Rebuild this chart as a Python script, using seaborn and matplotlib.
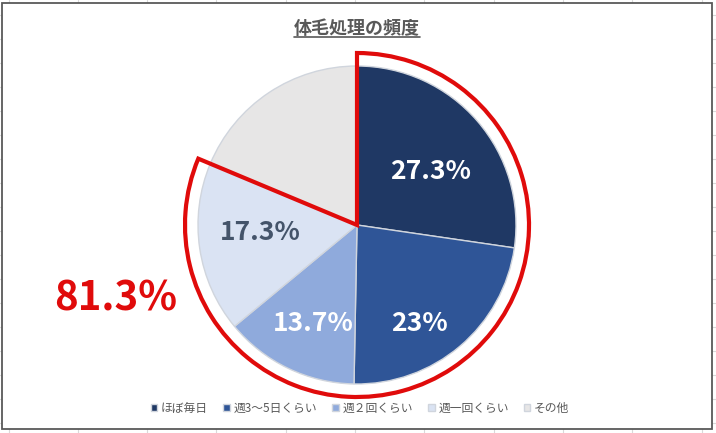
import numpy as np
import matplotlib
matplotlib.use("Agg")
import matplotlib.pyplot as plt
import seaborn as sns
from matplotlib.patches import Wedge, Rectangle

# ---- data ----
categories = ["ほぼ毎日", "週3〜5日くらい", "週２回くらい", "週一回くらい", "その他"]
values = [27.3, 23.0, 13.7, 17.3, 18.7]
pct_labels = ["27.3%", "23%", "13.7%", "17.3%", ""]
highlight_label = "81.3%"
highlight_count = 4
title = "体毛処理の頻度"

sns.set_style("white")
plt.rcParams["font.family"] = ["Noto Sans CJK JP", "DejaVu Sans"]

colors = sns.color_palette(["#1F3864", "#2F5597", "#8FAADC", "#DAE3F3", "#E7E6E6"])
label_colors = ["white", "white", "white", "#44546A", "white"]
label_r = [0.57, 0.73, 0.68, 0.61, 0.6]
label_dtheta = [-5, -8, 2, -4, 0]

W, H = 716, 433
fig = plt.figure(figsize=(W / 100, H / 100), dpi=100)
ax = fig.add_axes([0, 0, 1, 1])

# spreadsheet grid in background
for x in np.arange(8.5, W, 69.3):
    ax.plot([x, x], [0, H], color="#D9D9D9", lw=0.8, zorder=0)
for y in np.arange(15, H, 24):
    ax.plot([0, W], [H - y, H - y], color="#D9D9D9", lw=0.8, zorder=0)
ax.add_patch(Rectangle((2, H - 429), 710, 426, facecolor="white",
                       edgecolor="#595959", lw=1.3, zorder=0.5))

cx, cy, R = 357, H - 225, 159
wedges, _ = ax.pie(values, colors=colors, startangle=90, counterclock=False,
                   radius=R, center=(cx, cy), frame=True,
                   wedgeprops=dict(edgecolor="#D0D5DD", linewidth=1.0))

for i, w in enumerate(wedges):
    if not pct_labels[i]:
        continue
    th = np.deg2rad((w.theta1 + w.theta2) / 2 + label_dtheta[i])
    r = label_r[i] * R
    ax.text(cx + r * np.cos(th), cy + r * np.sin(th), pct_labels[i],
            ha="center", va="center", fontsize=19, fontweight="bold",
            color=label_colors[i], zorder=5)

# red highlight outline
frac = sum(values[:highlight_count]) / sum(values)
ax.add_patch(Wedge((cx, cy), 172, 90 - 360 * frac, 90, fill=False,
                   edgecolor="#E00B0B", lw=3, joinstyle="miter", zorder=6))
ax.text(116, H - 299, highlight_label, ha="center", va="center",
        fontsize=29, fontweight="bold", color="#E00B0B", zorder=6)

ax.set_xlim(0, W)
ax.set_ylim(0, H)
ax.set_aspect("equal")
ax.axis("off")

t = ax.text(357, H - 28, title, ha="center", va="center", fontsize=13,
            fontweight="bold", color="#595959", zorder=6)

leg = ax.legend(wedges, categories, loc="center", bbox_to_anchor=(360 / W, (H - 408) / H),
                bbox_transform=fig.transFigure, ncol=5, frameon=False, fontsize=8.5,
                handlelength=0.55, handleheight=0.55, handletextpad=0.3,
                columnspacing=1.3, labelcolor="#595959")

fig.canvas.draw()
bb = t.get_window_extent().transformed(ax.transData.inverted())
ax.plot([bb.x0, bb.x1], [H - 37, H - 37], color="#595959", lw=1.2, zorder=6)

fig.savefig("out.png", dpi=100)
